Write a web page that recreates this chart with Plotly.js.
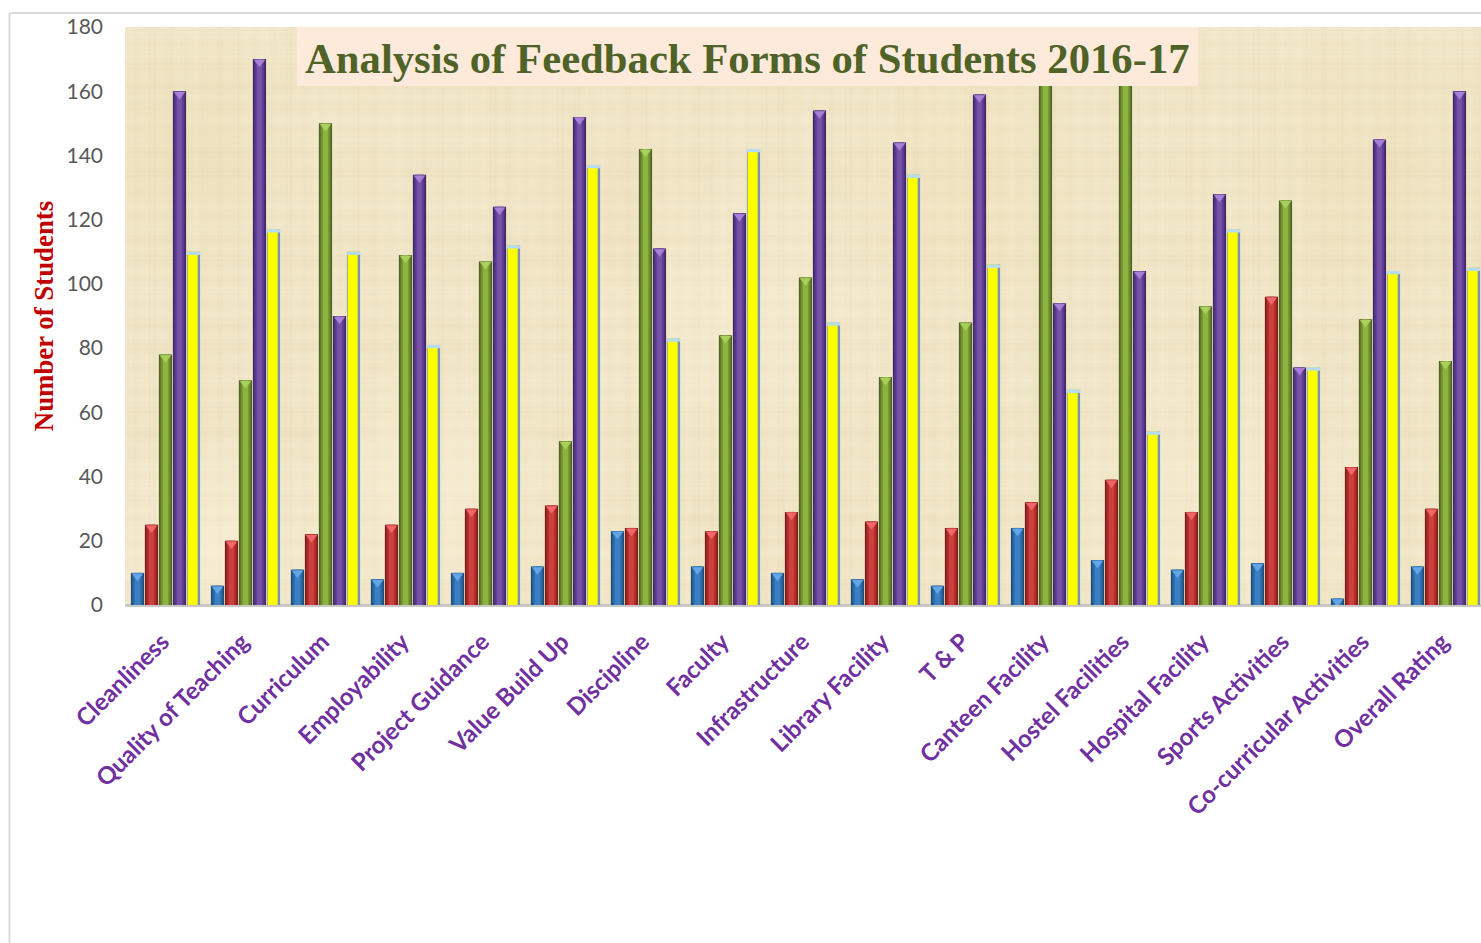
<!DOCTYPE html>
<html><head><meta charset="utf-8">
<script src="https://cdn.plot.ly/plotly-3.0.1.min.js"></script>
<style>html,body{margin:0;padding:0;background:#fff;overflow:hidden}#c{width:1481px;height:943px}</style>
</head><body><div id="c"></div>
<script>
const categories=["Cleanliness","Quality of Teaching","Curriculum","Employability","Project Guidance","Value Build Up","Discipline","Faculty","Infrastructure","Library Facility","T & P","Canteen Facility","Hostel Facilities","Hospital Facility","Sports Activities","Co-curricular Activities","Overall Rating"];
const blue=[10,6,11,8,10,12,23,12,10,8,6,24,14,11,13,2,12];
const red=[25,20,22,25,30,31,24,23,29,26,24,32,39,29,96,43,30];
const green=[78,70,150,109,107,51,142,84,102,71,88,166,172,93,126,89,76];
const purple=[160,170,90,134,124,152,111,122,154,144,159,94,104,128,74,145,160];
const yellow=[110,117,110,81,112,137,83,142,88,134,106,67,54,117,74,104,105];
const seriesNames=["Very Poor","Poor","Average","Good","Excellent"];
const seriesValues=[blue,red,green,purple,yellow];
const edge=["#1F4E79","#7B1E1C","#4F6228","#3F2A63","#7F93AB"];
const mid=["#2A6AA8","#B02A28","#6F8F2F","#5A3A8C","#FFFF00"];
const light=["#3A80C0","#C9403C","#8DB23F","#7450A8","#FFFF00"];
const cap=["#63A6E6","#F0666A","#A9D05A","#A77FD8","#B5DCF7"];
const step=0.175,wOuter=0.165,wMid=0.125,wLight=0.07;
// decorative parchment background (not data)
function parchment(w,h){
  const c=document.createElement('canvas');c.width=w;c.height=h;const g=c.getContext('2d');
  g.fillStyle='#F0E5C6';g.fillRect(0,0,w,h);
  const wob=(t,a,b,p)=>Math.sin(t*a+p)+0.6*Math.sin(t*b+p*1.7);
  for(let x=0;x<w;x+=4){const s=wob(x,0.37,0.091,1.3);g.fillStyle=s>0?`rgba(255,250,232,${0.09*s})`:`rgba(190,160,100,${-0.025*s})`;g.fillRect(x,0,2+(x%3),h);}
  for(let y=0;y<h;y+=4){const s=wob(y,0.29,0.073,0.4);g.fillStyle=s>0?`rgba(255,250,232,${0.09*s})`:`rgba(190,160,100,${-0.025*s})`;g.fillRect(0,y,w,2+(y%3));}
  const blots=[[90,520,130,'255,246,225',.45],[300,470,140,'255,246,225',.4],[620,300,170,'255,246,225',.3],[1100,480,190,'255,246,225',.3],[1250,150,150,'225,205,150',.15],[60,120,130,'225,205,150',.18],[850,160,150,'240,215,165',.18],[480,180,120,'235,205,165',.15]];
  blots.forEach(([x,y,r,col,a])=>{const q=g.createRadialGradient(x,y,0,x,y,r);q.addColorStop(0,`rgba(${col},${a})`);q.addColorStop(1,`rgba(${col},0)`);g.fillStyle=q;g.fillRect(x-r,y-r,2*r,2*r);});
  return c.toDataURL('image/png');
}
const traces=[];
seriesValues.forEach((vals,k)=>{
  const xs=vals.map((_,i)=>i+(k-2)*step);
  const bar=(w,c,dx)=>({type:'bar',name:seriesNames[k],x:xs.map(v=>v+dx),y:vals,width:w,marker:{color:c,line:{width:0}},hoverinfo:'y',showlegend:false});
  traces.push(bar(wOuter,edge[k],0));
  if(k===4){
    traces.push(bar(wMid,mid[k],-0.01));
    traces.push({type:'bar',x:xs,y:vals.map(()=>1),base:vals.map(v=>v-1),width:wOuter,marker:{color:cap[k],line:{width:0}},hoverinfo:'skip',showlegend:false});
  } else {
    traces.push(bar(wMid,mid[k],0));traces.push(bar(wLight,light[k],0));
    traces.push({type:'scatter',mode:'markers',x:xs,y:vals.map(v=>v-1),marker:{symbol:'triangle-down',size:10,color:cap[k],line:{width:0}},hoverinfo:'skip',showlegend:false});
  }
});
const py=v=>1-(v-27)/578, px=v=>(v-125)/1356;
const layout={
  width:1481,height:943,barmode:'overlay',showlegend:false,
  paper_bgcolor:'#fff',plot_bgcolor:'#F0E5C6',
  margin:{l:125,r:0,t:27,b:338,pad:0},
  images:[{source:parchment(1356,578),xref:'paper',yref:'paper',x:0,y:1,sizex:1,sizey:1,sizing:'stretch',xanchor:'left',yanchor:'top',layer:'below'}],
  xaxis:{range:[-0.506,16.444],tickmode:'array',tickvals:categories.map((_,i)=>i-0.04),ticktext:categories,tickangle:-45,ticklabelstandoff:17,
    tickfont:{family:'Lato, sans-serif',size:24,color:'#7030A0',weight:700},showgrid:false,zeroline:false,showline:false,ticks:'',ticklen:0,automargin:false},
  yaxis:{range:[0,180],tickvals:[0,20,40,60,80,100,120,140,160,180],showgrid:false,zeroline:true,zerolinecolor:'#C8C8C8',zerolinewidth:3,showline:false,ticks:'',ticklabelstandoff:21,
    tickfont:{family:'Lato, sans-serif',size:21,color:'#595959'},automargin:false,
    title:{text:'Number of Students',font:{family:'Liberation Serif, serif',size:26.8,color:'#C00000',weight:700},standoff:5}},
  annotations:[{xref:'paper',yref:'paper',x:px(747.5),y:py(59),xanchor:'center',yanchor:'middle',showarrow:false,
    text:'<b>Analysis of Feedback Forms of Students 2016-17</b>',font:{family:'Liberation Serif, serif',size:42.7,color:'#4F6228'}}],
  shapes:[{type:'rect',xref:'paper',yref:'paper',x0:px(297),x1:px(1198),y0:py(86),y1:py(27),fillcolor:'#FDEADA',line:{width:0},layer:'above'},
          {type:'line',xref:'paper',yref:'paper',x0:px(9.5),x1:1,y0:py(13),y1:py(13),line:{color:'#D9D9D9',width:2}},
          {type:'line',xref:'paper',yref:'paper',x0:px(9.5),x1:px(9.5),y0:py(13),y1:py(943),line:{color:'#D9D9D9',width:2}}]
};
Plotly.newPlot('c',traces,layout,{displayModeBar:false,staticPlot:true});
</script></body></html>
